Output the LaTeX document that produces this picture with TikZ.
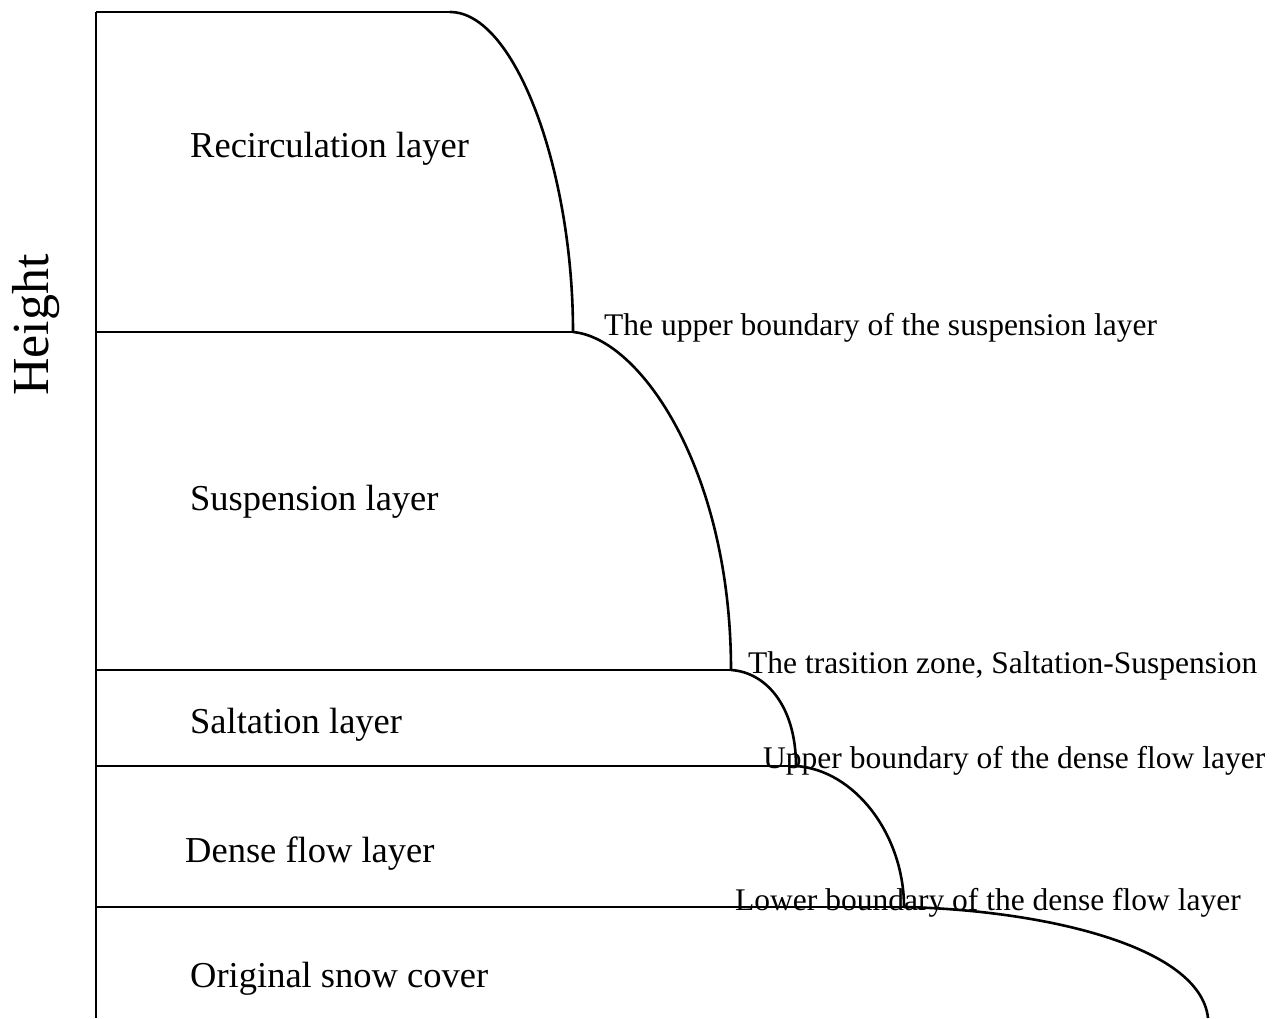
\documentclass[tikz,border=0pt]{standalone}
\usepackage{fontspec}
\setmainfont{Liberation Serif}
\begin{document}
\begin{tikzpicture}[x=1pt,y=-1pt,
  layer/.style={font=\fontsize{36.5}{40}\selectfont, anchor=base west, inner sep=0},
  bound/.style={font=\fontsize{31.5}{34}\selectfont, anchor=base west, inner sep=0},
  thin line/.style={line width=1.4pt},
  curve line/.style={line width=2.6pt}]
\useasboundingbox (0,0) rectangle (1285,1018);
% key points
\coordinate (top) at (96,12);
\coordinate (c1s) at (450,12);
\coordinate (p1) at (573,332);
\coordinate (p2) at (731,670);
\coordinate (p3) at (796,766);
\coordinate (p4) at (904,907);
\coordinate (p5) at (1208,1018);
\coordinate (bot) at (96,1018);
% axis
\draw[thin line] (top) -- (bot);
% horizontal boundaries
\draw[thin line] (top) -- (c1s);
\draw[thin line] (96,332) -- (p1);
\draw[thin line] (96,670) -- (p2);
\draw[thin line] (96,766) -- (p3);
\draw[thin line] (96,907) -- (p4);
% curved boundaries
\draw[curve line] (c1s) .. controls (515,12) and (573,170) .. (p1);
\draw[curve line] (p1) .. controls (640,338) and (731,470) .. (p2);
\draw[curve line] (p2) .. controls (765,672) and (796,705) .. (p3);
\draw[curve line] (p3) .. controls (855,770) and (904,835) .. (p4);
\draw[curve line] (p4) .. controls (1040,910) and (1200,945) .. (p5);
% labels
\node[font=\fontsize{52}{56}\selectfont, rotate=90] (h) at (36,325) {Height};
\node[layer] (rec) at (190,157) {Recirculation layer};
\node[layer] (sus) at (190,510) {Suspension layer};
\node[layer] (sal) at (190,733) {Saltation layer};
\node[layer] (den) at (185,862) {Dense flow layer};
\node[layer] (ori) at (190,987) {Original snow cover};
\node[bound] (ub) at (604,335) {The upper boundary of the suspension layer};
\node[bound] (tz) at (748,673) {The trasition zone, Saltation-Suspension};
\node[bound] (ud) at (763,768) {Upper boundary of the dense flow layer};
\node[bound] (ld) at (735,910) {Lower boundary of the dense flow layer};
\end{tikzpicture}
\end{document}
